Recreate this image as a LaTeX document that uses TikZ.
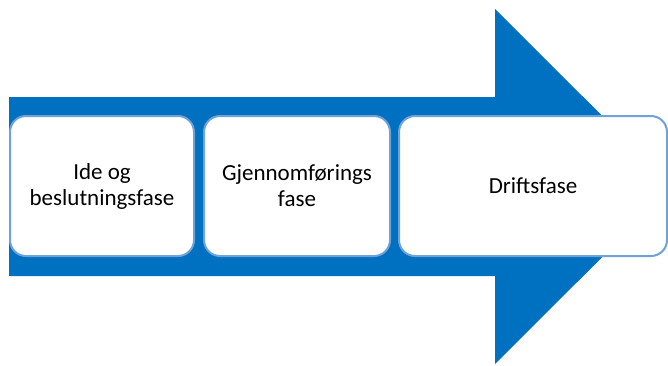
\documentclass[tikz,border=0pt]{standalone}
\usepackage{fontspec}
\setmainfont{Carlito}
\usetikzlibrary{positioning}
\definecolor{pilblue}{HTML}{0070C0}
\definecolor{faseline}{HTML}{6FA2DA}
\begin{document}
\begin{tikzpicture}[
    x=1pt, y=-1pt,
    every node/.style={font=\fontsize{23}{26}\selectfont},
    fase/.style={rectangle, draw=faseline, line width=2pt, fill=white,
                 rounded corners=16pt, align=center, inner sep=0pt,
                 minimum height=140pt},
]
\clip (0,0) rectangle (668,365);
% big arrow behind the phases
\fill[pilblue] (9,97) -- (495,97) -- (495,9) -- (673,186.5) -- (495,364)
    -- (495,276) -- (9,276) -- cycle;
\node[fase, minimum width=184pt] (ide) at (102,186) {Ide og\\beslutningsfase};
\node[fase, minimum width=186pt, right=8pt of ide] (gjennom) {Gjennomførings\\fase};
\node[fase, minimum width=268pt, right=7pt of gjennom] (drift) {Driftsfase};
\end{tikzpicture}
\end{document}
